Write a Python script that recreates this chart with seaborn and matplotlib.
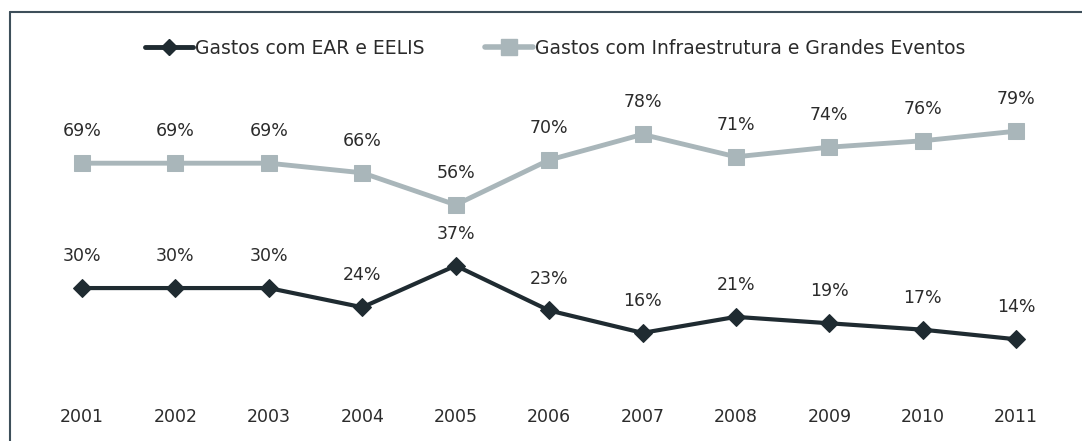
import pandas as pd
import seaborn as sns
import matplotlib.pyplot as plt
from matplotlib.lines import Line2D

# data (percent)
years = ['2001', '2002', '2003', '2004', '2005', '2006', '2007', '2008', '2009', '2010', '2011']
ear_eelis = [30, 30, 30, 24, 37, 23, 16, 21, 19, 17, 14]
infra_eventos = [69, 69, 69, 66, 56, 70, 78, 71, 74, 76, 79]
series_names = ['Gastos com EAR e EELIS', 'Gastos com Infraestrutura e Grandes Eventos']

dark = '#1f2b31'
gray = '#a9b6ba'
text_color = '#2b2b2b'

df = pd.DataFrame({'ano': years, 'ear': ear_eelis, 'infra': infra_eventos})
df['pos'] = range(len(df))

sns.set_style('white')
plt.rcParams['font.family'] = ['DejaVu Sans']

fig = plt.figure(figsize=(10.82, 4.41), dpi=100)
ax = fig.add_axes([0.024, 0.129, 0.967, 0.726])

sns.lineplot(data=df, x='pos', y='ear', ax=ax, color=dark, linewidth=3,
             marker='D', markersize=9, markeredgecolor=dark, label=series_names[0])
sns.lineplot(data=df, x='pos', y='infra', ax=ax, color=gray, linewidth=3.5,
             marker='s', markersize=12, markeredgecolor=gray, label=series_names[1])

# value labels
for col in ['ear', 'infra']:
    for x, v in zip(df['pos'], df[col]):
        ax.annotate(f'{v}%', (x, v), xytext=(0, 23), textcoords='offset points',
                    ha='center', va='center', fontsize=12.5, color=text_color)

ax.set_xlim(-0.6, 10.6)
ax.set_ylim(0, 100)
ax.set_xticks(df['pos'])
ax.set_xticklabels(years, fontsize=12.5, color=text_color)
ax.tick_params(axis='x', length=0, pad=17)
ax.set_yticks([])
ax.set_xlabel('')
ax.set_ylabel('')
for s in ax.spines.values():
    s.set_visible(False)

ax.get_legend().remove()
handles = [Line2D([], [], color=dark, linewidth=3.5, marker='D', markersize=8),
           Line2D([], [], color=gray, linewidth=4, marker='s', markersize=11)]
fig.legend(handles, series_names, loc='center', bbox_to_anchor=(0.513, 0.89), ncol=2,
           frameon=False, fontsize=13.5, handlelength=2.6, handletextpad=0.1, columnspacing=3.2,
           labelcolor=text_color)

# outer frame (top and left edges)
fig.add_artist(Line2D([10 / 1082, 1], [1 - 12 / 441, 1 - 12 / 441], transform=fig.transFigure,
                      color='#3e4f5a', linewidth=1.5))
fig.add_artist(Line2D([10 / 1082, 10 / 1082], [0, 1 - 12 / 441], transform=fig.transFigure,
                      color='#3e4f5a', linewidth=1.5))

fig.savefig('out.png', dpi=100, facecolor='white')
